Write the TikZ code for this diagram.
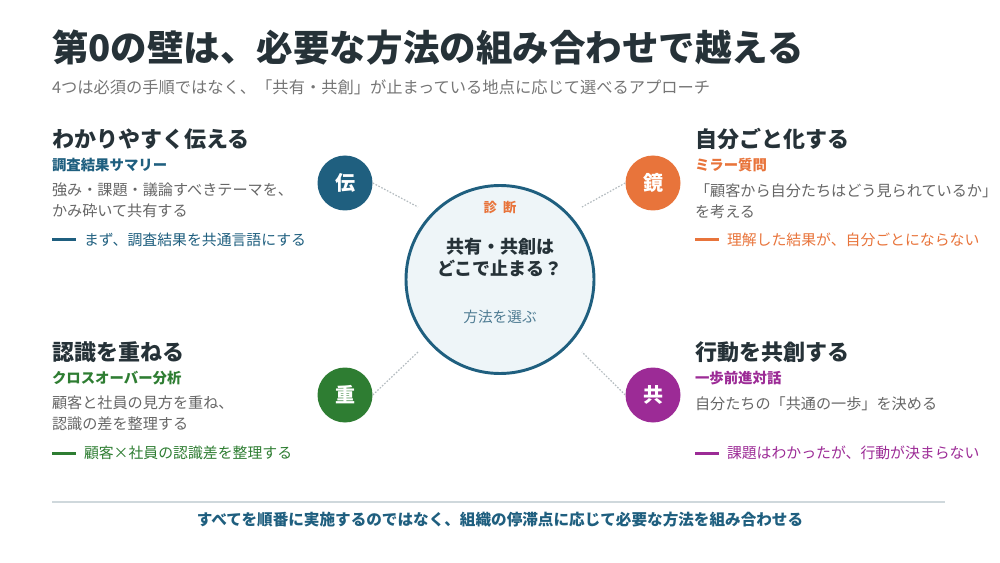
\documentclass[tikz,border=0pt]{standalone}
\usepackage{fontspec}
\setmainfont{Noto Sans CJK JP}
\usetikzlibrary{calc}

\definecolor{inkdark}{HTML}{263238}
\definecolor{subgray}{HTML}{757575}
\definecolor{bodygray}{HTML}{666666}
\definecolor{tealblue}{HTML}{1F5F7F}
\definecolor{orangec}{HTML}{E8743B}
\definecolor{greenc}{HTML}{2E7D32}
\definecolor{purplec}{HTML}{9C2B96}
\definecolor{centerfill}{HTML}{EEF5F8}
\definecolor{rulegray}{HTML}{CFD8DC}
\definecolor{dotgray}{HTML}{B4BCC0}
\definecolor{pickgray}{HTML}{4F7C93}

\tikzset{
  txt/.style={inner sep=0pt, outer sep=0pt},
  heading/.style={txt, anchor=west, text=inkdark, font=\bfseries\fontsize{16.5}{20}\selectfont},
  method/.style={txt, anchor=west, font=\bfseries\fontsize{10.8}{13}\selectfont},
  bodytext/.style={txt, anchor=north west, align=left, text=bodygray, font=\fontsize{11.35}{15.75}\selectfont},
  notetext/.style={txt, anchor=west, font=\fontsize{11.15}{13}\selectfont},
  icon/.style={circle, inner sep=0pt, minimum size=41.25pt, text=white, font=\bfseries\fontsize{15}{18}\selectfont},
  dotline/.style={dotgray, line width=0.9pt, dash pattern=on 1.2pt off 1.2pt}
}

\begin{document}
\begin{tikzpicture}[x=0.75pt,y=-0.75pt]
\useasboundingbox (0,0) rectangle (1000,563);

% title
\node[txt,anchor=west,text=inkdark,font=\bfseries\fontsize{27.4}{32}\selectfont] (title) at (52,48) {第0の壁は、必要な方法の組み合わせで越える};
\node[txt,anchor=west,text=subgray,font=\fontsize{12.2}{15}\selectfont] (subtitle) at (52,87) {4つは必須の手順ではなく、「共有・共創」が止まっている地点に応じて選べるアプローチ};

% center circle
\node[circle,draw=tealblue,line width=2.2pt,fill=centerfill,minimum size=141pt,inner sep=0pt] (diag) at (500,279.5) {};
\node[txt,text=orangec,font=\bfseries\fontsize{10}{12}\selectfont] (diaglabel) at (500,207) {診\hspace{4.5pt}断};
\node[txt,align=center,text=inkdark,font=\bfseries\fontsize{13.5}{16.5}\selectfont] (question) at (500,257) {共有・共創は\\どこで止まる？};
\node[txt,text=pickgray,font=\fontsize{11}{13}\selectfont] (pick) at (500,317) {方法を選ぶ};

% icons and dotted links
\coordinate (dA) at (418,207); \coordinate (dB) at (582,207);
\coordinate (dC) at (418,352); \coordinate (dD) at (582,352);
\foreach \n/\px/\py/\col/\ch in {den/345/183/tealblue/伝,kyo/653/183/orangec/鏡,ju/345/395/greenc/重,tomo/653/395/purplec/共}{\node[icon,fill=\col] (\n) at (\px,\py) {\ch};}
\foreach \a/\b in {den.east/dA,kyo.west/dB,ju.east/dC,tomo.west/dD}{\draw[dotline] (\a) -- (\b);}

% method blocks
\foreach \hx/\hy/\col/\head/\meth/\desc/\note in {
  52/139/tealblue/わかりやすく伝える/調査結果サマリー/{強み・課題・議論すべきテーマを、\\かみ砕いて共有する}/まず、調査結果を共通言語にする,
  695/139/orangec/自分ごと化する/ミラー質問/{「顧客から自分たちはどう見られているか」\\を考える}/理解した結果が、自分ごとにならない,
  52/352/greenc/認識を重ねる/クロスオーバー分析/{顧客と社員の見方を重ね、\\認識の差を整理する}/顧客×社員の認識差を整理する,
  695/352/purplec/行動を共創する/一歩前進対話/{自分たちの「共通の一歩」を決める}/課題はわかったが、行動が決まらない}{
  \node[heading] at (\hx,\hy) {\head};
  \node[method,text=\col] at (\hx,{\hy+26.5}) {\meth};
  \node[bodytext] at (\hx,{\hy+44.2}) {\desc};
  \draw[\col,line width=2.25pt] (\hx,{\hy+101}) -- ++(24,0);
  \node[notetext,text=\col] at ({\hx+32},{\hy+101}) {\note};
}

% bottom message
\draw[rulegray,line width=1pt] (52,502) -- (945,502);
\node[txt,text=tealblue,font=\bfseries\fontsize{11.7}{14}\selectfont] (message) at (500,520) {すべてを順番に実施するのではなく、組織の停滞点に応じて必要な方法を組み合わせる};
\end{tikzpicture}
\end{document}
